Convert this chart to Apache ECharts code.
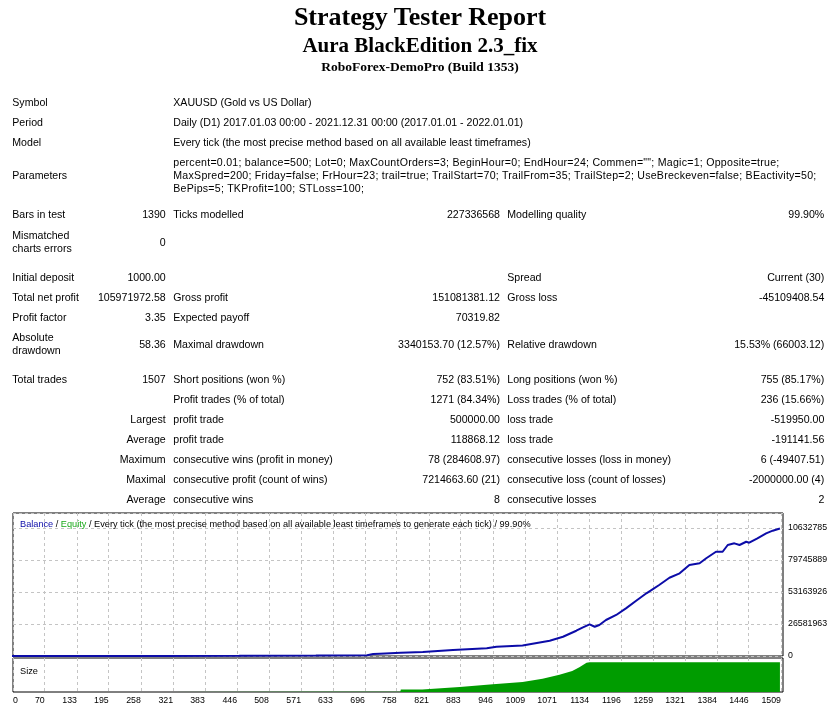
<!DOCTYPE html>
<html>
<head>
<meta charset="utf-8">
<title>Strategy Tester Report</title>
<script src="https://cdn.jsdelivr.net/npm/echarts@6.0.0/dist/echarts.min.js"></script>
<style>
  html, body { margin: 0; padding: 0; background: #fff; }
  #page { position: relative; width: 840px; height: 709px; overflow: hidden; }
  #chart { position: absolute; left: 0; top: 0; width: 840px; height: 709px; }
  .t { position: absolute; white-space: nowrap; font-family: "Liberation Sans", Arial, sans-serif;
       font-size: 10.6px; line-height: 13px; color: #000; }
  .p { letter-spacing: 0.25px; }
  .h { position: absolute; left: 0; width: 840px; text-align: center; font-family: "Liberation Serif", "Times New Roman", serif;
       font-weight: bold; color: #000; }
</style>
</head>
<body>
<div id="page">
  <div id="chart"></div>
</div>
<script>
// balance curve: [trade number, balance]
const balanceTrades = [0, 150, 300, 450, 600, 700, 712, 725, 766, 809, 868, 934, 953, 1004, 1057, 1083, 1109, 1122, 1135,
  1145, 1154, 1167, 1187, 1206, 1226, 1246, 1258, 1271, 1291, 1311, 1330, 1350, 1363, 1382, 1395, 1405,
  1418, 1428, 1441, 1447, 1463, 1480, 1493, 1507];
const balanceValues = [1000, 8000, 40000, 150000, 400000, 700000, 1600000, 1900000, 2740000, 3320000, 4980000, 6400000, 7730000,
  8700000, 12700000, 16000000, 21000000, 23800000, 26300000, 24300000, 25800000, 29900000, 34100000, 39600000,
  45900000, 52100000, 55400000, 59000000, 65000000, 68700000, 75600000, 77000000, 81200000, 86600000, 86600000,
  92200000, 93600000, 92200000, 94900000, 94100000, 97800000, 101900000, 104100000, 105972972];

// position size (lots) per trade
const sizeTrades = [0, 300, 600, 765, 766, 808, 809, 881, 946, 1004, 1043, 1076, 1101, 1115, 1129, 1135, 1507];
const sizeValues = [0.01, 0.1, 0.4, 0.6, 4, 4, 5.7, 8.3, 12.8, 16.7, 22.3, 29, 35, 41.7, 49, 50, 50];

// axis ticks
const xTicks = [0, 70, 133, 195, 258, 321, 383, 446, 508, 571, 633, 696, 758, 821, 883, 946, 1009, 1071,
  1134, 1196, 1259, 1321, 1384, 1446, 1509];
const yTicks = [0, 26581963, 53163926, 79745889, 106327852];
const xStart = 8;      // first trade at the left frame
const xEnd = 1513;
const yTop = 118800000;
const sizeTop = 57;

// report text
const header = ['Strategy Tester Report', 'Aura BlackEdition 2.3_fix', 'RoboForex-DemoPro (Build 1353)'];
const paramLines = [
  'percent=0.01; balance=500; Lot=0; MaxCountOrders=3; BeginHour=0; EndHour=24; Commen=""; Magic=1; Opposite=true;',
  'MaxSpred=200; Friday=false; FrHour=23; trail=true; TrailStart=70; TrailFrom=35; TrailStep=2; UseBreckeven=false; BEactivity=50;',
  'BePips=5; TKProfit=100; STLoss=100;'
];
// [baseline, col1, col2, col3, col4, col5, col6]
const rows = [
  [105.7, 'Symbol', '', 'XAUUSD (Gold vs US Dollar)'],
  [125.7, 'Period', '', 'Daily (D1) 2017.01.03 00:00 - 2021.12.31 00:00 (2017.01.01 - 2022.01.01)'],
  [145.7, 'Model', '', 'Every tick (the most precise method based on all available least timeframes)'],
  [179, 'Parameters'],
  [218.3, 'Bars in test', '1390', 'Ticks modelled', '227336568', 'Modelling quality', '99.90%'],
  [245.7, '', '0'],
  [281, 'Initial deposit', '1000.00', '', '', 'Spread', 'Current (30)'],
  [300.7, 'Total net profit', '105971972.58', 'Gross profit', '151081381.12', 'Gross loss', '-45109408.54'],
  [320.7, 'Profit factor', '3.35', 'Expected payoff', '70319.82'],
  [348.3, '', '58.36', 'Maximal drawdown', '3340153.70 (12.57%)', 'Relative drawdown', '15.53% (66003.12)'],
  [383.3, 'Total trades', '1507', 'Short positions (won %)', '752 (83.51%)', 'Long positions (won %)', '755 (85.17%)'],
  [402.7, '', '', 'Profit trades (% of total)', '1271 (84.34%)', 'Loss trades (% of total)', '236 (15.66%)'],
  [423, '', 'Largest', 'profit trade', '500000.00', 'loss trade', '-519950.00'],
  [443, '', 'Average', 'profit trade', '118868.12', 'loss trade', '-191141.56'],
  [462.7, '', 'Maximum', 'consecutive wins (profit in money)', '78 (284608.97)', 'consecutive losses (loss in money)', '6 (-49407.51)'],
  [482.7, '', 'Maximal', 'consecutive profit (count of wins)', '7214663.60 (21)', 'consecutive loss (count of losses)', '-2000000.00 (4)'],
  [502.7, '', 'Average', 'consecutive wins', '8', 'consecutive losses', '2']
];
const twoLineLabels = [[239, 'Mismatched', 'charts errors'], [341, 'Absolute', 'drawdown']];

const page = document.getElementById('page');
function put(text, x, baseline, align, cls) {
  const d = document.createElement('div');
  d.className = 't' + (cls ? ' ' + cls : '');
  d.textContent = text;
  d.style.top = (baseline - 10.2) + 'px';
  if (align === 'right') {
    d.style.left = (x - 400) + 'px';
    d.style.width = '400px';
    d.style.textAlign = 'right';
  } else {
    d.style.left = x + 'px';
  }
  page.appendChild(d);
}

// headings
[[26, 26], [21, 52.2], [13.5, 71]].forEach(([size, base], i) => {
  const d = document.createElement('div');
  d.className = 'h';
  d.textContent = header[i];
  d.style.fontSize = size + 'px';
  d.style.lineHeight = size + 'px';
  d.style.top = (base - 0.8375 * size) + 'px';
  page.appendChild(d);
});

const colX = [12.3, 165.7, 173.3, 500, 507.3, 824.3];
const colAlign = ['left', 'right', 'left', 'right', 'left', 'right'];
rows.forEach(r => {
  for (let c = 1; c < r.length; c++) {
    if (r[c]) put(r[c], colX[c - 1], r[0], colAlign[c - 1]);
  }
});
twoLineLabels.forEach(([base, a, b]) => {
  put(a, colX[0], base, 'left');
  put(b, colX[0], base + 12.7, 'left');
});
paramLines.forEach((line, i) => put(line, colX[2], 166 + i * 13, 'left', 'p'));

// chart
const chart = echarts.init(document.getElementById('chart'));
const font = '"Liberation Sans", Arial, sans-serif';
const gridLine = { show: true, lineStyle: { color: '#c4c4c4', type: [3, 3], width: 1 } };
const xLabelValues = xTicks.map(v => Math.max(v, xStart));

chart.setOption({
  animation: false,
  backgroundColor: '#fff',
  title: [{
    left: 15, top: 515,
    text: '{b|Balance} / {e|Equity} / Every tick (the most precise method based on all available least timeframes to generate each tick) / 99.90%',
    textStyle: {
      fontFamily: font, fontSize: 9.2, fontWeight: 'normal', color: '#000',
      rich: { b: { color: '#0c0ca8', fontSize: 9.2, fontFamily: font }, e: { color: '#19a819', fontSize: 9.2, fontFamily: font } }
    }
  }, {
    left: 15, top: 662, text: 'Size',
    textStyle: { fontFamily: font, fontSize: 9.2, fontWeight: 'normal', color: '#000' }
  }],
  grid: [
    { left: 13, top: 513, width: 770, height: 143, show: true, borderColor: '#000', borderWidth: 1, backgroundColor: '#fff' },
    { left: 13, top: 658, width: 770, height: 34, show: true, borderColor: '#000', borderWidth: 1, backgroundColor: '#fff' }
  ],
  xAxis: [
    {
      type: 'value', gridIndex: 0, min: xStart, max: xEnd,
      axisLine: { show: false }, axisLabel: { show: false },
      axisTick: { show: false, customValues: xLabelValues },
      splitLine: gridLine
    },
    {
      type: 'value', gridIndex: 1, min: xStart, max: xEnd,
      axisLine: { show: false },
      axisTick: { show: false, customValues: xLabelValues },
      splitLine: gridLine,
      axisLabel: {
        customValues: xLabelValues, align: 'right', alignMinLabel: 'left', margin: 4,
        fontFamily: font, fontSize: 8.8, color: '#000',
        formatter: v => String(xTicks[xLabelValues.indexOf(v)])
      }
    }
  ],
  yAxis: [
    {
      type: 'value', gridIndex: 0, position: 'right', min: 0, max: yTop, interval: yTicks[1],
      axisLine: { show: false }, axisTick: { show: false },
      splitLine: gridLine,
      axisLabel: {
        showMaxLabel: false, margin: 5, fontFamily: font, fontSize: 8.8, color: '#000',
        width: 42, overflow: 'truncate', ellipsis: '',
        formatter: v => String(v)
      }
    },
    {
      type: 'value', gridIndex: 1, min: 0, max: sizeTop,
      axisLine: { show: false }, axisTick: { show: false }, axisLabel: { show: false }, splitLine: { show: false }
    }
  ],
  series: [
    {
      name: 'Size', type: 'line', xAxisIndex: 1, yAxisIndex: 1, symbol: 'none',
      data: sizeTrades.map((t, i) => [t, sizeValues[i]]),
      lineStyle: { width: 0, color: '#009c00' },
      areaStyle: { color: '#009c00', opacity: 1 }
    },
    {
      name: 'Balance', type: 'line', xAxisIndex: 0, yAxisIndex: 0, symbol: 'none',
      data: balanceTrades.map((t, i) => [t, balanceValues[i]]),
      lineStyle: { width: 2, color: '#0c0ca8' }
    }
  ]
});
</script>
</body>
</html>
